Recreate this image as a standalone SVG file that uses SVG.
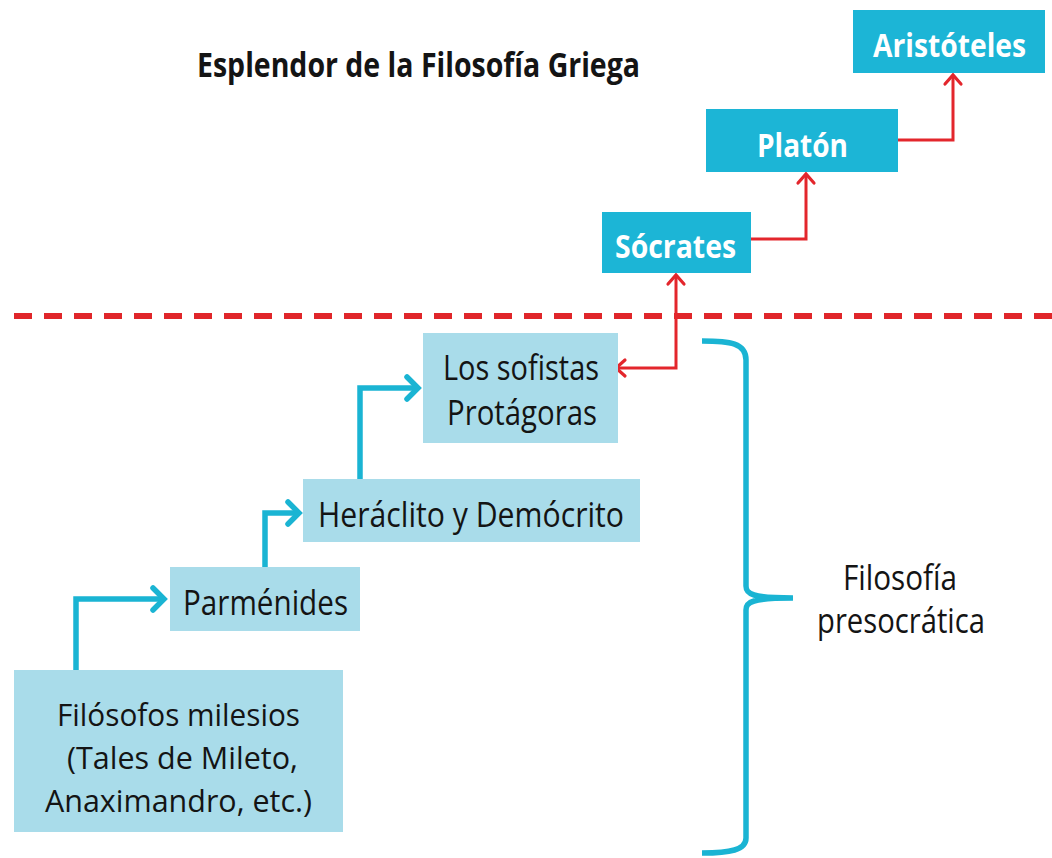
<svg xmlns="http://www.w3.org/2000/svg" width="1052" height="858" viewBox="0 0 1052 858">
  <style>
    .dark { fill: #1cb5d6; }
    .light { fill: #a9dcea; }
    .t { font-family: "Open Sans", "Liberation Sans", sans-serif; font-size: 34px; fill: #141414; }
    .ts { font-size: 31px; }
    .tw { font-family: "Open Sans", "Liberation Sans", sans-serif; font-size: 33px; font-weight: bold; fill: #ffffff; }
    .title { font-family: "Open Sans", "Liberation Sans", sans-serif; font-size: 34px; font-weight: bold; fill: #141414; }
    .blue { fill: none; stroke: #1ab4d3; stroke-width: 5.5; stroke-linejoin: miter; }
    .red { fill: none; stroke: #e3262c; stroke-width: 3; stroke-linejoin: miter; }
  </style>
  <defs>
    <marker id="ab" markerUnits="userSpaceOnUse" markerWidth="30" markerHeight="30" refX="0" refY="0" viewBox="-16 -15 20 30" orient="auto">
      <path d="M -11 -11 L 0 0 L -11 11" fill="none" stroke="#1ab4d3" stroke-width="5.5" stroke-linejoin="miter" stroke-linecap="round"/>
    </marker>
    <marker id="ar" markerUnits="userSpaceOnUse" markerWidth="24" markerHeight="24" refX="0" refY="0" viewBox="-12 -12 16 24" orient="auto-start-reverse">
      <path d="M -9 -8 L 0 0 L -9 8" fill="none" stroke="#e3262c" stroke-width="3.2" stroke-linejoin="miter" stroke-linecap="round"/>
    </marker>
  </defs>
  <rect width="1052" height="858" fill="#ffffff"/>

  <text class="title" x="197" y="77" textLength="443" lengthAdjust="spacingAndGlyphs">Esplendor de la Filosofía Griega</text>

  <g id="divider">
    <line x1="14" y1="316" x2="1052" y2="316" stroke="#e0262a" stroke-width="6" stroke-dasharray="18 12"/>
  </g>

  <g id="connectors">
    <path class="blue" d="M 76 670 L 76 599 L 164 599" marker-end="url(#ab)"/>
    <path class="blue" d="M 265 567 L 265 513 L 299 513" marker-end="url(#ab)"/>
    <path class="blue" d="M 360 479 L 360 388 L 418 388" marker-end="url(#ab)"/>
    <path class="red" d="M 616 368 L 676 368 L 676 275" marker-start="url(#ar)" marker-end="url(#ar)"/>
    <path class="red" d="M 751 239 L 806 239 L 806 174" marker-end="url(#ar)"/>
    <path class="red" d="M 898 140 L 953 140 L 953 75" marker-end="url(#ar)"/>
  </g>

  <g id="n-aristoteles">
    <rect class="dark" x="853" y="10" width="192" height="63"/>
    <text class="tw" x="873" y="57" textLength="153" lengthAdjust="spacingAndGlyphs">Aristóteles</text>
  </g>
  <g id="n-platon">
    <rect class="dark" x="706" y="109" width="192" height="63"/>
    <text class="tw" x="757" y="157" textLength="91" lengthAdjust="spacingAndGlyphs">Platón</text>
  </g>
  <g id="n-socrates">
    <rect class="dark" x="602" y="212" width="149" height="61"/>
    <text class="tw" x="615" y="258" textLength="121" lengthAdjust="spacingAndGlyphs">Sócrates</text>
  </g>
  <g id="n-sofistas">
    <rect class="light" x="423" y="333" width="195" height="110"/>
    <text class="t" x="443" y="380" textLength="156" lengthAdjust="spacingAndGlyphs">Los sofistas</text>
    <text class="t" x="447" y="425" textLength="150" lengthAdjust="spacingAndGlyphs">Protágoras</text>
  </g>
  <g id="n-heraclito">
    <rect class="light" x="303" y="479" width="337" height="63"/>
    <text class="t" x="318" y="527" textLength="306" lengthAdjust="spacingAndGlyphs">Heráclito y Demócrito</text>
  </g>
  <g id="n-parmenides">
    <rect class="light" x="170" y="567" width="190" height="64"/>
    <text class="t" x="183" y="615" textLength="165" lengthAdjust="spacingAndGlyphs">Parménides</text>
  </g>
  <g id="n-milesios">
    <rect class="light" x="14" y="670" width="329" height="162"/>
    <text class="t ts" x="57" y="726" textLength="243" lengthAdjust="spacingAndGlyphs">Filósofos milesios</text>
    <text class="t ts" x="67" y="769" textLength="231" lengthAdjust="spacingAndGlyphs">(Tales de Mileto,</text>
    <text class="t ts" x="45" y="812" textLength="267" lengthAdjust="spacingAndGlyphs">Anaximandro, etc.)</text>
  </g>

  <g id="brace">
    <path class="blue" d="M 702 341 C 730 341 746 343 746 360 L 746 586 C 746 594 752 598 793 598 C 752 598 746 602 746 610 L 746 838 C 746 850 730 853 702 853"/>
    <text class="t" x="843" y="590" textLength="114" lengthAdjust="spacingAndGlyphs">Filosofía</text>
    <text class="t" x="817" y="633" textLength="168" lengthAdjust="spacingAndGlyphs">presocrática</text>
  </g>
</svg>
